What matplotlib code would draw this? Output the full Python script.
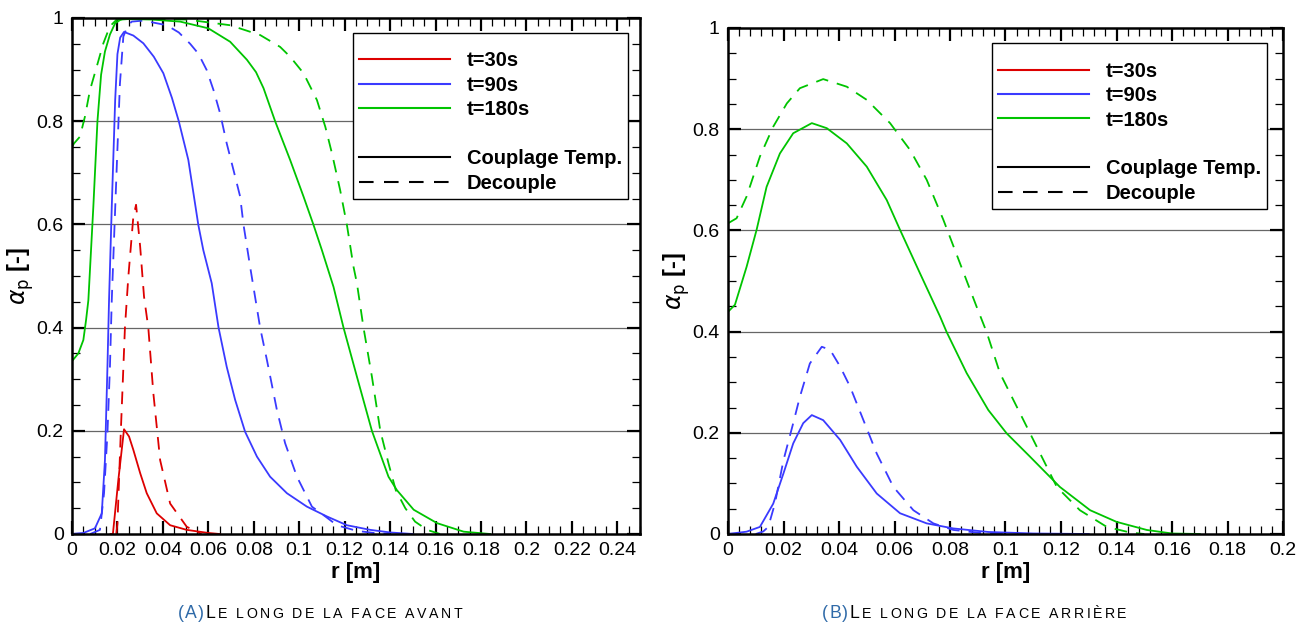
import matplotlib
matplotlib.use('Agg')
import matplotlib.pyplot as plt
from matplotlib.lines import Line2D
from matplotlib.font_manager import FontProperties
from matplotlib.ticker import MultipleLocator, FuncFormatter

# ---- data : face avant (A) ----
r30_c = [0.017, 0.018, 0.0204, 0.0229, 0.0251, 0.027, 0.030, 0.0329, 0.0373, 0.0432,
         0.0505, 0.060, 0.065]
a30_c = [0.0, 0.0, 0.105, 0.203, 0.189, 0.163, 0.118, 0.079, 0.04, 0.017,
         0.008, 0.002, 0.0]
r30_d = [0.0195, 0.0200, 0.0215, 0.0233, 0.0248, 0.027, 0.0282, 0.030, 0.0317, 0.0336,
         0.0358, 0.0388, 0.0432, 0.0505, 0.057]
a30_d = [0.0, 0.02, 0.2, 0.4, 0.499, 0.615, 0.638, 0.557, 0.46, 0.399,
         0.273, 0.143, 0.059, 0.014, 0.0]

r90_c = [0.0, 0.005, 0.0101, 0.0131, 0.0145, 0.0156, 0.0163, 0.0175, 0.019, 0.020,
         0.0212, 0.0229, 0.027, 0.0314, 0.036, 0.0402, 0.044, 0.047, 0.0512, 0.0556,
         0.0578, 0.0615, 0.0645, 0.0681, 0.0718, 0.0762, 0.0814, 0.0872, 0.0946, 0.1034,
         0.1122, 0.121, 0.1313, 0.140, 0.150]
a90_c = [0.0, 0.002, 0.011, 0.04, 0.143, 0.324, 0.453, 0.634, 0.841, 0.93,
         0.962, 0.973, 0.966, 0.951, 0.925, 0.893, 0.845, 0.80, 0.725, 0.599,
         0.55, 0.486, 0.4, 0.324, 0.26, 0.198, 0.15, 0.111, 0.079, 0.053,
         0.034, 0.017, 0.008, 0.003, 0.0]
r90_d = [0.008, 0.0123, 0.0141, 0.0156, 0.0167, 0.0175, 0.0186, 0.0197, 0.0211, 0.0226,
         0.0245, 0.0263, 0.0314, 0.0417, 0.047, 0.052, 0.0556, 0.0593, 0.0623, 0.0652,
         0.0681, 0.0711, 0.074, 0.0755, 0.0784, 0.0828, 0.0858, 0.0902, 0.0938, 0.099,
         0.1056, 0.1115, 0.1166, 0.1254, 0.133, 0.140]
a90_d = [0.0, 0.008, 0.079, 0.195, 0.324, 0.453, 0.583, 0.712, 0.873, 0.964,
         0.985, 0.993, 0.995, 0.986, 0.972, 0.95, 0.931, 0.899, 0.86, 0.815,
         0.757, 0.705, 0.654, 0.599, 0.518, 0.4, 0.337, 0.24, 0.176, 0.111,
         0.053, 0.034, 0.017, 0.006, 0.002, 0.0]

r180_c = [0.0, 0.0028, 0.005, 0.0062, 0.0072, 0.0094, 0.0112, 0.0128, 0.0145, 0.0167,
          0.019, 0.0215, 0.025, 0.035, 0.0476, 0.060, 0.0696, 0.077, 0.081, 0.0843,
          0.0894, 0.096, 0.1019, 0.1063, 0.110, 0.1151, 0.1195, 0.1254, 0.132, 0.1393,
          0.143, 0.1504, 0.1607, 0.1724, 0.184]
a180_c = [0.335, 0.35, 0.376, 0.415, 0.453, 0.635, 0.80, 0.89, 0.935, 0.968,
          0.99, 0.997, 0.998, 0.997, 0.993, 0.98, 0.954, 0.919, 0.895, 0.864,
          0.80, 0.725, 0.654, 0.599, 0.55, 0.479, 0.4, 0.305, 0.2, 0.111,
          0.085, 0.047, 0.021, 0.0045, 0.0]
r180_d = [0.0, 0.0009, 0.0035, 0.0057, 0.0079, 0.0109, 0.0138, 0.0167, 0.0197, 0.030,
          0.0505, 0.0696, 0.0828, 0.0916, 0.096, 0.1019, 0.1078, 0.1115, 0.1144, 0.118,
          0.121, 0.1239, 0.1254, 0.1283, 0.132, 0.1357, 0.1393, 0.1425, 0.1467, 0.151,
          0.1563, 0.162]
a180_d = [0.75, 0.757, 0.77, 0.809, 0.86, 0.906, 0.951, 0.984, 0.997, 0.998,
          0.997, 0.986, 0.967, 0.944, 0.925, 0.893, 0.841, 0.789, 0.738, 0.667,
          0.599, 0.518, 0.486, 0.4, 0.305, 0.2, 0.137, 0.085, 0.05, 0.024,
          0.008, 0.0]

# ---- data : face arriere (B) ----
rb90_c = [0.0, 0.0067, 0.0115, 0.0163, 0.020, 0.0235, 0.0271, 0.0302, 0.0343, 0.0404,
          0.0464, 0.0536, 0.062, 0.0716, 0.0812, 0.0938, 0.11, 0.13]
ab90_c = [0.0, 0.0046, 0.014, 0.06, 0.12, 0.179, 0.219, 0.235, 0.225, 0.186,
          0.133, 0.08, 0.041, 0.021, 0.011, 0.004, 0.001, 0.0]
rb90_d = [0.010, 0.0127, 0.0145, 0.0169, 0.020, 0.0235, 0.0259, 0.0295, 0.0338, 0.0368,
          0.0404, 0.044, 0.0488, 0.0536, 0.0596, 0.0668, 0.074, 0.0812, 0.091, 0.10]
ab90_d = [0.0, 0.005, 0.014, 0.06, 0.146, 0.219, 0.271, 0.337, 0.37, 0.364,
          0.331, 0.291, 0.225, 0.159, 0.093, 0.047, 0.021, 0.008, 0.002, 0.0]

rb180_c = [0.0, 0.0025, 0.0067, 0.0103, 0.0139, 0.0187, 0.0235, 0.0302, 0.0356, 0.0428,
           0.050, 0.0572, 0.062, 0.0692, 0.0764, 0.0788, 0.086, 0.0938, 0.1004, 0.1088,
           0.1196, 0.1305, 0.140, 0.1509, 0.160, 0.170]
ab180_c = [0.439, 0.453, 0.528, 0.601, 0.686, 0.752, 0.792, 0.812, 0.802, 0.772,
           0.726, 0.66, 0.601, 0.515, 0.43, 0.399, 0.318, 0.245, 0.199, 0.153,
           0.093, 0.047, 0.024, 0.008, 0.001, 0.0]
rb180_d = [0.0, 0.0031, 0.0067, 0.0115, 0.0163, 0.0212, 0.0259, 0.0343, 0.0428, 0.050,
           0.0584, 0.0656, 0.0716, 0.0776, 0.0836, 0.0896, 0.0932, 0.098, 0.1052, 0.1124,
           0.1185, 0.1268, 0.1365, 0.1449, 0.150]
ab180_d = [0.614, 0.624, 0.667, 0.746, 0.805, 0.851, 0.881, 0.899, 0.884, 0.858,
           0.812, 0.759, 0.70, 0.621, 0.535, 0.449, 0.399, 0.318, 0.239, 0.16,
           0.093, 0.047, 0.014, 0.003, 0.0]

time_labels = ['t=30s', 't=90s', 't=180s']
colors = ['#dd0000', '#3a3aff', '#00c400']
DASH = (7, 5)

plt.rcParams['font.family'] = ['Liberation Sans', 'DejaVu Sans']
plt.rcParams['mathtext.fontset'] = 'dejavusans'

fig = plt.figure(figsize=(13.08, 6.25), dpi=100)
axA = fig.add_axes([72/1308, 1 - 534/625, 568/1308, 516/625])
axB = fig.add_axes([728/1308, 1 - 534/625, 555/1308, 506/625])


def style_axis(ax, xmax, xmajor, xminor):
    ax.set_xlim(0, xmax)
    ax.set_ylim(0, 1)
    ax.xaxis.set_major_locator(MultipleLocator(xmajor))
    ax.xaxis.set_minor_locator(MultipleLocator(xminor))
    ax.yaxis.set_major_locator(MultipleLocator(0.2))
    ax.yaxis.set_minor_locator(MultipleLocator(0.05))
    fmt = FuncFormatter(lambda v, p: '%g' % round(v, 4))
    ax.xaxis.set_major_formatter(fmt)
    ax.yaxis.set_major_formatter(fmt)
    ax.tick_params(which='both', direction='in', top=True, right=True, labelsize=14)
    ax.tick_params(which='major', length=9.5, width=1.6, pad=6)
    ax.tick_params(which='minor', length=6, width=0.9)
    for s in ax.spines.values():
        s.set_linewidth(1.8)
    for yv in [0.2, 0.4, 0.6, 0.8]:
        ax.axhline(yv, color='0.4', lw=0.9, zorder=0)
    ax.set_xlabel('r [m]', fontsize=16, fontweight='bold', labelpad=2)
    ax.set_ylabel(r'$\alpha_\mathrm{p}$ [-]', fontsize=17, fontweight='bold', labelpad=0)


def add_legend(ax, anchor):
    handles = [Line2D([], [], color=c, lw=1.5) for c in colors]
    handles.append(Line2D([], [], color='none'))
    handles.append(Line2D([], [], color='black', lw=1.5))
    handles.append(Line2D([], [], color='black', lw=1.5, dashes=DASH))
    labels = time_labels + [' ', 'Couplage Temp.', 'Decouple']
    # the empty title gives the extra room above the first entry
    leg = ax.legend(handles, labels, loc='upper right', bbox_to_anchor=anchor,
                    fancybox=False, framealpha=1, edgecolor='black',
                    prop={'weight': 'bold', 'size': 14.5}, handlelength=4.5,
                    handletextpad=0.85, labelspacing=0.27, borderpad=0.3,
                    borderaxespad=0, title=' ', title_fontsize=5)
    leg.get_frame().set_linewidth(1.0)


lw = 1.3
# panel A
axA.plot(r30_c, a30_c, color=colors[0], lw=lw)
axA.plot(r30_d, a30_d, color=colors[0], lw=lw, dashes=DASH)
axA.plot(r90_c, a90_c, color=colors[1], lw=lw)
axA.plot(r90_d, a90_d, color=colors[1], lw=lw, dashes=DASH)
axA.plot(r180_c, a180_c, color=colors[2], lw=lw)
axA.plot(r180_d, a180_d, color=colors[2], lw=lw, dashes=DASH)
style_axis(axA, 0.25, 0.02, 0.005)
add_legend(axA, (0.979, 0.971))

# panel B
axB.plot(rb90_c, ab90_c, color=colors[1], lw=lw)
axB.plot(rb90_d, ab90_d, color=colors[1], lw=lw, dashes=DASH)
axB.plot(rb180_c, ab180_c, color=colors[2], lw=lw)
axB.plot(rb180_d, ab180_d, color=colors[2], lw=lw, dashes=DASH)
style_axis(axB, 0.2, 0.02, 0.004)
add_legend(axB, (0.971, 0.970))


# captions in letter-spaced small caps, drawn one glyph at a time
def caption(x0, y, parts):
    renderer = fig.canvas.get_renderer()
    x = x0
    for s, size, color, track in parts:
        prop = FontProperties(family='Liberation Sans', size=size)
        for ch in s:
            fig.text(x, y, ch, fontproperties=prop, color=color,
                     va='baseline', ha='left', transform=None)
            w = renderer.get_text_width_height_descent(ch, prop, ismath=False)[0]
            x += w + track


caption(178, 625 - 618, [('(A)', 12.7, '#2f6aa8', 1.3), ('L', 12.7, 'black', 2.0),
                         ('E LONG DE LA FACE AVANT', 10.2, 'black', 2.5)])
caption(822, 625 - 618, [('(B)', 12.7, '#2f6aa8', 1.3), ('L', 12.7, 'black', 2.0),
                         ('E LONG DE LA FACE ARRIÈRE', 10.2, 'black', 2.5)])

fig.savefig('out.png', dpi=100)
